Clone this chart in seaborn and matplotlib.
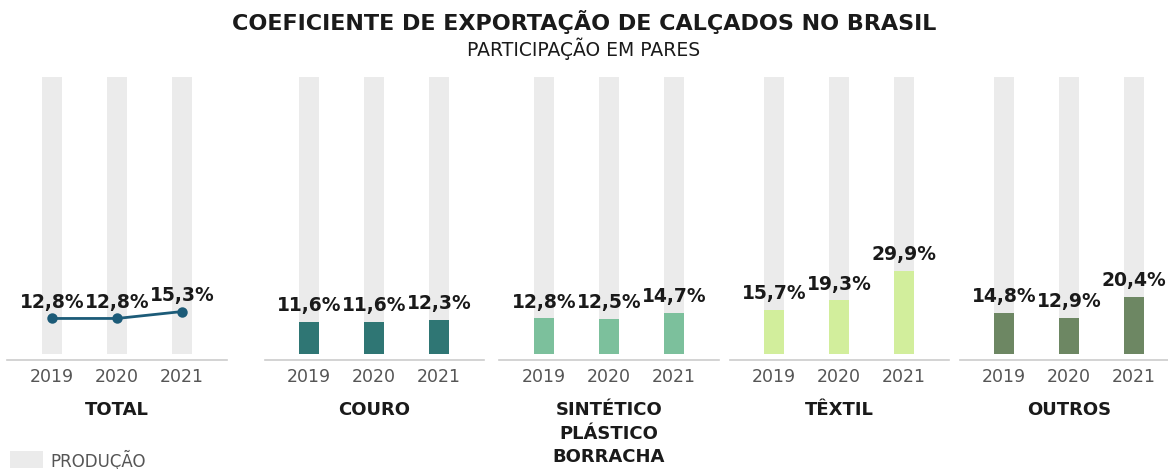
import matplotlib.pyplot as plt
import matplotlib.patches as mpatches
import seaborn as sns

years = ['2019', '2020', '2021']
producao = [100, 100, 100]
total = [12.8, 12.8, 15.3]
couro = [11.6, 11.6, 12.3]
sintetico = [12.8, 12.5, 14.7]
textil = [15.7, 19.3, 29.9]
outros = [14.8, 12.9, 20.4]

panel_names = ['TOTAL', 'COURO', 'SINTÉTICO\nPLÁSTICO\nBORRACHA', 'TÊXTIL', 'OUTROS']
panel_values = [total, couro, sintetico, textil, outros]
panel_colors = ['#1c5b78', '#2f7674', '#7cc09c', '#d2ee9c', '#6d8763']

sns.set_style('white')
plt.rcParams['font.family'] = ['DejaVu Sans']

W, H = 1168, 469
fig = plt.figure(figsize=(W / 100, H / 100), dpi=100)

# panel centres in pixels (layout only)
centers = [117, 374, 609, 839, 1069]
pw = 219

for i, (name, vals, col) in enumerate(zip(panel_names, panel_values, panel_colors)):
    ax = fig.add_axes([(centers[i] - pw / 2) / W, 1 - 360 / H, pw / W, 283 / H])
    sns.barplot(x=years, y=producao, color='#ebebeb', width=0.31, saturation=1,
                linewidth=0, edgecolor='none', ax=ax)
    if i == 0:
        sns.pointplot(x=years, y=vals, color=col, markers='o', markersize=6,
                      linewidth=2, ax=ax)
    else:
        sns.barplot(x=years, y=vals, color=col, width=0.31, saturation=1,
                    linewidth=0, edgecolor='none', ax=ax)

    for j, v in enumerate(vals):
        ax.annotate(f'{v:.1f}%'.replace('.', ','), (j, v), xytext=(0, 5),
                    textcoords='offset points', ha='center', va='bottom',
                    fontsize=13.5, fontweight='heavy', color='#1a1a1a', zorder=5)

    ax.set_xlim(-0.68, 2.68)
    ax.set_ylim(-2.2, 100)
    ax.set_xlabel('')
    ax.set_ylabel('')
    ax.set_yticks([])
    for s in ['top', 'left', 'right']:
        ax.spines[s].set_visible(False)
    ax.spines['bottom'].set_color('#cccccc')
    ax.spines['bottom'].set_linewidth(1.2)
    ax.tick_params(axis='x', length=0, pad=6, labelsize=12.5, labelcolor='#555555')
    ax.patch.set_alpha(0)

    ax.text(0.5, -0.145, name, transform=ax.transAxes, ha='center', va='top',
            fontsize=13, fontweight='heavy', color='#1a1a1a', linespacing=1.4)

fig.text(0.5, 1 - 10 / H, 'COEFICIENTE DE EXPORTAÇÃO DE CALÇADOS NO BRASIL',
         ha='center', va='top', fontsize=16, fontweight='heavy', color='#1a1a1a')
fig.text(0.5, 1 - 37 / H, 'PARTICIPAÇÃO EM PARES', ha='center', va='top',
         fontsize=13.5, color='#1a1a1a')

# legend
fig.add_artist(mpatches.Rectangle((10 / W, 1 - 468 / H), 33 / W, 17 / H,
                                  transform=fig.transFigure, color='#ebebeb', lw=0))
fig.text(50 / W, 1 - 460 / H, 'PRODUÇÃO', ha='left', va='center',
         fontsize=12, color='#555555')

plt.savefig('out.png', dpi=100)
plt.close()
